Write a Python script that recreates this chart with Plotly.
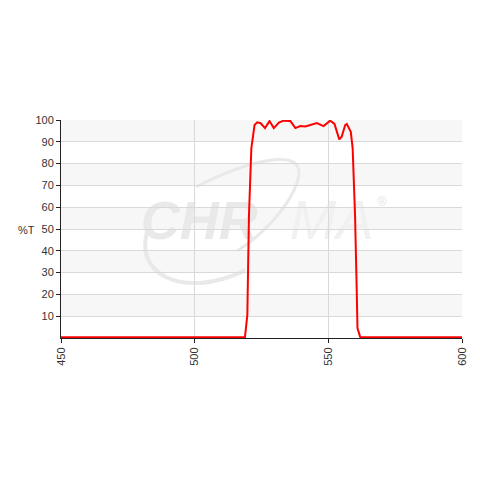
import plotly.graph_objects as go

wavelength = [450, 518.8, 519.7, 520.3, 521.2, 522.4, 523.4, 524.7, 526.3, 528.0, 529.6,
              531.5, 533.3, 535.8, 537.7, 539.5, 541.4, 543.3, 545.7, 548.2, 550.7,
              552.3, 554.1, 555.0, 556.3, 556.9, 558.4, 559.1, 560.0, 560.6, 560.9,
              561.9, 562.4, 600]
transmission = [0.3, 0.3, 10.5, 56, 87, 97.7, 98.9, 98.5, 96.3, 99.5, 96.3,
                98.8, 99.7, 99.5, 96.3, 97.2, 97.0, 97.8, 98.6, 97.2, 99.7,
                98.2, 91.1, 92.3, 97.7, 98.2, 94.6, 87, 56, 23, 4.6,
                0.5, 0.3, 0.3]

x_ticks = [450, 500, 550, 600]
y_ticks = [10, 20, 30, 40, 50, 60, 70, 80, 90, 100]
band_edges = [(10, 20), (30, 40), (50, 60), (70, 80), (90, 100)]

WM = "#e9e9e9"

fig = go.Figure()

shapes = []
for lo, hi in band_edges:
    shapes.append(dict(type="rect", xref="paper", yref="y", x0=0, x1=1, y0=lo, y1=hi,
                       fillcolor="#f7f7f7", line=dict(width=0), layer="below"))
# watermark swoosh (decorative)
shapes.append(dict(type="path", xref="paper", yref="paper",
                   path="M 0.337,0.693 C 0.45,0.80 0.62,0.90 0.59,0.72 C 0.57,0.60 0.50,0.47 0.44,0.40",
                   line=dict(color=WM, width=3), layer="between"))
shapes.append(dict(type="path", xref="paper", yref="paper",
                   path="M 0.221,0.518 C 0.17,0.30 0.30,0.17 0.46,0.31",
                   line=dict(color=WM, width=4), layer="between"))
# watermark text (decorative labels, drawn under the curve)
shapes.append(dict(type="rect", xref="paper", yref="paper", x0=0.30, x1=0.39, y0=0.50, y1=0.63,
                   line=dict(width=0), fillcolor="rgba(0,0,0,0)", layer="between",
                   label=dict(text="<b><i>CHR</i></b>", textposition="middle center",
                              font=dict(size=54, color=WM, family="Liberation Sans, Arial"))))
shapes.append(dict(type="rect", xref="paper", yref="paper", x0=0.63, x1=0.72, y0=0.50, y1=0.63,
                   line=dict(width=0), fillcolor="rgba(0,0,0,0)", layer="between",
                   label=dict(text="<i>MA</i>", textposition="middle center",
                              font=dict(size=56, color="#f1f1f1", family="Liberation Sans, Arial"))))
shapes.append(dict(type="rect", xref="paper", yref="paper", x0=0.78, x1=0.82, y0=0.60, y1=0.66,
                   line=dict(width=0), fillcolor="rgba(0,0,0,0)", layer="between",
                   label=dict(text="®", textposition="middle center",
                              font=dict(size=12, color="#e3e3e3", family="Liberation Sans, Arial"))))

fig.add_trace(go.Scatter(x=wavelength, y=transmission, mode="lines",
                         line=dict(color="#ff0000", width=2), showlegend=False,
                         hoverinfo="skip"))

fig.update_layout(
    width=472, height=472,
    margin=dict(l=53, r=16, t=112, b=142),
    paper_bgcolor="white", plot_bgcolor="white",
    font=dict(family="Liberation Sans, Arial, sans-serif", size=11, color="#333333"),
    shapes=shapes,
    xaxis=dict(range=[450, 600], tickvals=x_ticks, ticktext=[str(v) for v in x_ticks],
               tickangle=-90, showgrid=True, gridcolor="#d9d9d9", gridwidth=1,
               showline=True, linecolor="#222222", linewidth=1, ticks="outside",
               ticklen=4, tickcolor="#222222", zeroline=False),
    yaxis=dict(range=[0, 100], tickvals=y_ticks, ticktext=[str(v) for v in y_ticks],
               showgrid=True, gridcolor="#d9d9d9", gridwidth=1,
               showline=True, linecolor="#222222", linewidth=1, ticks="outside",
               ticklen=4, tickcolor="#222222", zeroline=False),
    annotations=[
        dict(text="%T", xref="paper", yref="paper", x=-0.06, y=0.495, showarrow=False,
             xanchor="right", yanchor="middle", font=dict(size=11, color="#333333")),
    ],
)

fig.write_html("out.html")
